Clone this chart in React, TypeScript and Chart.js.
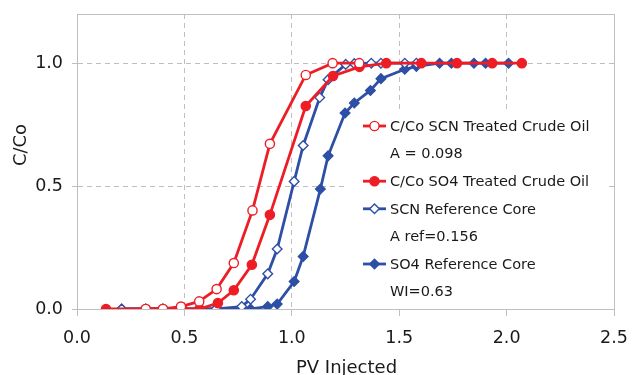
import React, { useEffect, useRef } from "react";
import { Chart, registerables } from "chart.js";
Chart.register(...registerables);

// ---- data ----
const scnTreatedX = [0.32, 0.40, 0.484, 0.569, 0.650, 0.730, 0.817, 0.898, 1.065, 1.190, 1.314];
const scnTreatedY = [0, 0, 0.01, 0.031, 0.081, 0.187, 0.401, 0.672, 0.952, 1.0, 1.0];

const so4TreatedX = [0.135, 0.32, 0.40, 0.49, 0.57, 0.656, 0.730, 0.814, 0.898, 1.065, 1.192, 1.315, 1.440, 1.603, 1.769, 1.933, 2.071];
const so4TreatedY = [0, 0, 0, 0, 0, 0.024, 0.076, 0.18, 0.383, 0.826, 0.948, 0.985, 1.0, 1.0, 1.0, 1.0, 1.0];

const scnRefX = [0.208, 0.32, 0.40, 0.49, 0.569, 0.647, 0.767, 0.808, 0.888, 0.932, 1.011, 1.053, 1.130, 1.169, 1.251, 1.291, 1.370, 1.415, 1.526, 1.580];
const scnRefY = [0, 0, 0, 0, 0, 0, 0.01, 0.04, 0.143, 0.244, 0.519, 0.665, 0.860, 0.933, 0.995, 0.998, 1.0, 1.0, 1.0, 1.0];

const so4RefX = [0.208, 0.32, 0.40, 0.49, 0.569, 0.647, 0.767, 0.808, 0.888, 0.932, 1.011, 1.053, 1.133, 1.169, 1.248, 1.291, 1.366, 1.415, 1.526, 1.580, 1.688, 1.743, 1.848, 1.902, 2.009];
const so4RefY = [0, 0, 0, 0, 0, 0, 0, 0, 0.01, 0.02, 0.112, 0.214, 0.488, 0.623, 0.797, 0.838, 0.889, 0.937, 0.975, 0.987, 1.0, 1.0, 1.0, 1.0, 1.0];

const seriesNames = [
  "C/Co SCN Treated Crude Oil",
  "C/Co SO4 Treated Crude Oil",
  "SCN Reference Core",
  "SO4 Reference Core",
];
// legend rows: series index or a free note
const legendRows: (number | string)[] = [0, "A = 0.098", 1, 2, "A ref=0.156", 3, "WI=0.63"];

const xTicks = [0, 0.5, 1.0, 1.5, 2.0, 2.5];
const yTicks = [0, 0.5, 1.0];
const xTitle = "PV Injected";
const yTitle = "C/Co";

const RED = "#EE1D25";
const BLUE = "#2D4FA6";
const GRID = "#BFBFBF";
const FONT = "'DejaVu Sans', Verdana, sans-serif";

const styles = [
  { color: RED, shape: "circle", open: true },
  { color: RED, shape: "circle", open: false },
  { color: BLUE, shape: "diamond", open: true },
  { color: BLUE, shape: "diamond", open: false },
];

function pts(xs: number[], ys: number[]) {
  return xs.map((x, i) => ({ x, y: ys[i] }));
}

function drawMarker(ctx: CanvasRenderingContext2D, x: number, y: number, s: any) {
  ctx.save();
  ctx.beginPath();
  if (s.shape === "circle") {
    ctx.arc(x, y, 4.6, 0, Math.PI * 2);
  } else {
    const r = 4.8;
    ctx.moveTo(x, y - r);
    ctx.lineTo(x + r, y);
    ctx.lineTo(x, y + r);
    ctx.lineTo(x - r, y);
    ctx.closePath();
  }
  ctx.fillStyle = s.open ? "#ffffff" : s.color;
  ctx.fill();
  ctx.lineWidth = 1.4;
  ctx.strokeStyle = s.color;
  ctx.stroke();
  ctx.restore();
}

const framePlugin = {
  id: "frameAndLegend",
  beforeDatasetsDraw(chart: any) {
    const { ctx, chartArea } = chart;
    const { left, top, right, bottom } = chartArea;
    ctx.save();
    // frame top/right
    ctx.strokeStyle = GRID;
    ctx.lineWidth = 1;
    ctx.setLineDash([]);
    ctx.beginPath();
    ctx.moveTo(left, top + 0.5);
    ctx.lineTo(right + 0.5, top + 0.5);
    ctx.lineTo(right + 0.5, bottom);
    ctx.stroke();

    // legend box
    const lx = left + 270;
    const ly = top + 96;
    ctx.fillStyle = "#ffffff";
    ctx.fillRect(lx, ly, right - 6 - lx, bottom - 2 - ly);

    const rowH = 27.6;
    const y0 = top + 112;
    const sx0 = left + 286;
    const sx1 = left + 309;
    const tx = left + 313;
    ctx.font = `14.5px ${FONT}`;
    ctx.textBaseline = "middle";
    ctx.textAlign = "left";
    legendRows.forEach((row, i) => {
      const y = y0 + i * rowH;
      ctx.fillStyle = "#1a1a1a";
      if (typeof row === "number") {
        const s = styles[row];
        ctx.strokeStyle = s.color;
        ctx.lineWidth = 2.8;
        ctx.beginPath();
        ctx.moveTo(sx0, y);
        ctx.lineTo(sx1, y);
        ctx.stroke();
        drawMarker(ctx, (sx0 + sx1) / 2, y, s);
        ctx.fillStyle = "#1a1a1a";
        ctx.fillText(seriesNames[row], tx, y + 1);
      } else {
        ctx.fillText(row, tx, y + 1);
      }
    });

    // axis titles
    ctx.font = `18px ${FONT}`;
    ctx.fillStyle = "#1a1a1a";
    ctx.textAlign = "center";
    ctx.textBaseline = "alphabetic";
    ctx.fillText(xTitle, (left + right) / 2 + 1, bottom + 64);
    ctx.save();
    ctx.translate(26, top + 131);
    ctx.rotate(-Math.PI / 2);
    ctx.fillText(yTitle, 0, 0);
    ctx.restore();
    ctx.restore();
  },
};

export default function App() {
  const ref = useRef<HTMLCanvasElement | null>(null);
  useEffect(() => {
    document.body.style.margin = "0";
    const canvas = ref.current!;
    const mk = (i: number, xs: number[], ys: number[]) => {
      const s = styles[i];
      return {
        label: seriesNames[i],
        data: pts(xs, ys),
        borderColor: s.color,
        borderWidth: 2.8,
        backgroundColor: s.open ? "#ffffff" : s.color,
        pointBackgroundColor: s.open ? "#ffffff" : s.color,
        pointBorderColor: s.color,
        pointBorderWidth: 1.4,
        pointStyle: s.shape === "circle" ? "circle" : "rectRot",
        pointRadius: s.shape === "circle" ? 4.6 : 4.8,
        tension: 0,
        showLine: true,
        fill: false,
      };
    };
    const chart = new Chart(canvas, {
      type: "scatter",
      data: {
        datasets: [
          { ...mk(3, so4RefX, so4RefY), order: 4 },
          { ...mk(2, scnRefX, scnRefY), order: 3 },
          { ...mk(1, so4TreatedX, so4TreatedY), order: 2 },
          { ...mk(0, scnTreatedX, scnTreatedY), order: 1 },
        ] as any,
      },
      options: {
        animation: false,
        responsive: false,
        layout: { padding: { top: 14, right: 18, left: 0, bottom: 0 } },
        plugins: { legend: { display: false }, tooltip: { enabled: false } },
        scales: {
          x: {
            type: "linear",
            min: 0,
            max: 2.5,
            afterBuildTicks: (s: any) => {
              s.ticks = xTicks.map((v) => ({ value: v }));
            },
            afterFit: (s: any) => {
              s.height = 66;
              s.paddingLeft = 0;
              s.paddingRight = 0;
            },
            ticks: {
              callback: (v: any) => Number(v).toFixed(1),
              font: { family: FONT, size: 17.5 },
              color: "#1a1a1a",
              padding: 12,
              maxRotation: 0,
            },
            grid: { color: GRID, lineWidth: 1, tickLength: 7, tickColor: GRID },
            border: { color: GRID, width: 1, dash: [5, 4] },
          },
          y: {
            type: "linear",
            min: 0,
            max: 1.2,
            afterBuildTicks: (s: any) => {
              s.ticks = yTicks.map((v) => ({ value: v }));
            },
            afterFit: (s: any) => {
              s.width = 77;
              s.paddingTop = 0;
              s.paddingBottom = 0;
            },
            ticks: {
              callback: (v: any) => Number(v).toFixed(1),
              font: { family: FONT, size: 17.5 },
              color: "#1a1a1a",
              padding: 9,
            },
            grid: { color: GRID, lineWidth: 1, tickLength: 5, tickColor: GRID },
            border: { color: GRID, width: 1, dash: [5, 4] },
          },
        },
      },
      plugins: [framePlugin],
    });
    return () => chart.destroy();
  }, []);
  return (
    <div style={{ width: 632, height: 375, background: "#ffffff" }}>
      <canvas ref={ref} width={632} height={375} style={{ display: "block" }} />
    </div>
  );
}
